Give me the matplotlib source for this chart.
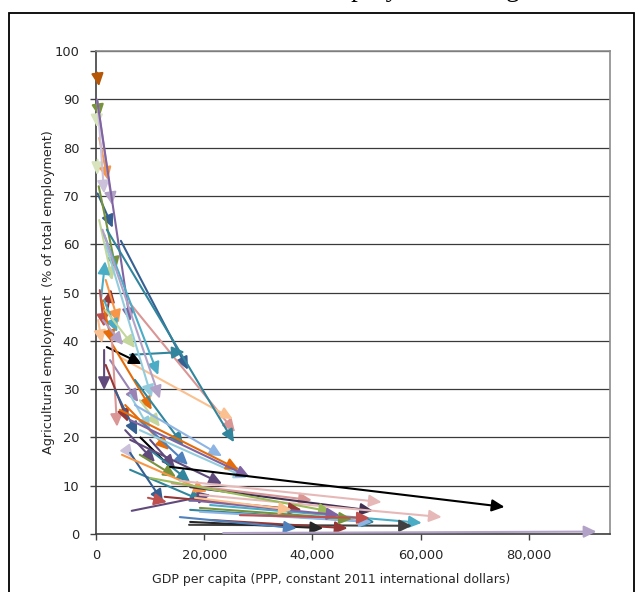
import matplotlib
matplotlib.use("Agg")
import matplotlib.pyplot as plt
from matplotlib.patches import Rectangle
from matplotlib.ticker import FuncFormatter

# one arrow per country: first year -> last year
x_start = [250, 250, 150, 300, 600, 200, 400, 300, 200, 500,
           600, 2000, 900, 4600, 6100, 4800, 2000, 6300, 2000, 1500,
           700, 1800, 1500, 400, 1100, 1700, 1300, 1500, 1800, 1200,
           3100, 2600, 2950, 1800, 8100, 6300, 3500, 7200, 5400, 5400,
           5700, 10000, 8100, 8100, 10000, 6300, 7200, 8100, 4400, 6300,
           6300, 6600, 6300, 4800, 14000, 15500, 17400, 19200, 10000, 12700,
           21100, 17200, 17400, 21100, 17400, 15500, 23500, 19200, 17400, 19200,
           18300, 26600, 9600]
y_start = [95.5, 89.5, 87.0, 77.5, 82.0, 89.9, 87.8, 70.5, 89.9, 72.0,
           65.0, 45.8, 48.4, 60.7, 48.0, 36.4, 63.0, 37.1, 38.7, 38.1,
           50.5, 52.6, 48.4, 44.3, 48.4, 46.4, 44.3, 62.0, 60.0, 63.0,
           39.1, 36.0, 40.2, 35.0, 27.7, 28.8, 29.8, 31.9, 26.7, 21.5,
           17.4, 19.5, 23.6, 16.4, 17.4, 19.5, 26.7, 21.5, 25.7, 23.6,
           13.3, 4.8, 16.8, 16.4, 10.5, 11.0, 9.7, 8.1, 11.6, 7.7,
           6.0, 1.9, 5.0, 2.9, 2.5, 3.5, 0.2, 4.6, 7.0, 5.4,
           7.5, 3.9, 7.5]
x_end = [550, 650, 200, 200, 2200, 3000, 1500, 3100, 6300, 3700,
         3000, 2800, 1700, 17000, 25700, 25300, 25500, 16400, 8500, 1500,
         1500, 4200, 3900, 1100, 3000, 7200, 5000, 11500, 10300, 11800,
         10300, 7800, 3900, 5900, 11800, 10000, 7600, 16100, 13500, 10900,
         6800, 14600, 17000, 14800, 17400, 23300, 23300, 27900, 26400, 28400,
         19800, 21200, 12400, 20500, 39900, 52800, 51200, 63900, 43600, 38000,
         60200, 58400, 51500, 46500, 42000, 37100, 92500, 51000, 45000, 47300,
         36200, 50600, 13100]
y_end = [92.7, 86.3, 84.2, 74.3, 73.3, 68.1, 70.5, 63.4, 44.0, 54.7,
         52.5, 50.7, 56.5, 34.0, 21.1, 23.8, 19.0, 37.7, 35.2, 29.8,
         42.9, 43.7, 41.8, 39.5, 39.5, 38.5, 39.1, 32.9, 28.2, 28.0,
         25.7, 27.3, 22.2, 23.2, 22.2, 21.5, 20.5, 18.4, 17.4, 14.9,
         15.7, 13.7, 14.3, 11.8, 10.8, 10.4, 16.1, 11.6, 13.3, 11.8,
         6.8, 8.1, 6.6, 8.7, 7.0, 6.6, 4.8, 3.5, 4.6, 5.0,
         2.3, 1.7, 2.5, 1.2, 1.2, 1.2, 0.5, 2.5, 3.9, 3.1,
         5.0, 3.3, 6.6]
colors = ["#B65708", "#77933C", "#D7E4BD", "#D7E4BD", "#F79646", "#B3A2C7", "#CCC1DA", "#376092", "#8064A2", "#77933C",
          "#C3D69B", "#953735", "#4BACC6", "#376092", "#D99694", "#FAC090", "#31859C", "#31859C", "#000000", "#604A7B",
          "#C0504D", "#F79646", "#4BACC6", "#FAC090", "#E46C0A", "#C3D69B", "#B3A2C7", "#4BACC6", "#93CDDD", "#B3A2C7",
          "#E46C0A", "#9983B5", "#D99694", "#953735", "#C3D69B", "#93CDDD", "#376092", "#31859C", "#E46C0A", "#604A7B",
          "#CCC1DA", "#604A7B", "#4F81BD", "#77933C", "#31859C", "#604A7B", "#8EB4E3", "#93CDDD", "#E46C0A", "#8064A2",
          "#31859C", "#604A7B", "#376092", "#F79646", "#D99694", "#E6B9B8", "#403152", "#E6B9B8", "#9BBB59", "#953735",
          "#4BACC6", "#404040", "#31859C", "#953735", "#262626", "#4F81BD", "#B3A2C7", "#8EB4E3", "#8064A2", "#77933C",
          "#FAC090", "#C0504D", "#C0504D"]

# the long black one has a middle year
black_x = [8100, 13700, 75500]
black_y = [20.1, 13.9, 5.6]

plt.rcParams["font.family"] = ["DejaVu Sans"]

fig = plt.figure(figsize=(6.42, 5.92), dpi=100)
ax = fig.add_axes([96 / 642, 1 - 534 / 592, 514 / 642, 483 / 592])

head = "-|>,head_length=0.75,head_width=0.36"


def arrow(x0, y0, x1, y1, c):
    ax.annotate("", xy=(x1, y1), xytext=(x0, y0),
                arrowprops=dict(arrowstyle=head, color=c, lw=1.5,
                                shrinkA=0, shrinkB=0, mutation_scale=10))


for i in range(len(x_start)):
    arrow(x_start[i], y_start[i], x_end[i], y_end[i], colors[i])

ax.plot(black_x[:-1], black_y[:-1], color="black", lw=1.5, solid_capstyle="butt")
arrow(black_x[-2], black_y[-2], black_x[-1], black_y[-1], "black")

ax.set_xlim(0, 95000)
ax.set_ylim(0, 100)
ax.set_xticks([0, 20000, 40000, 60000, 80000])
ax.set_yticks(range(0, 101, 10))
ax.xaxis.set_major_formatter(FuncFormatter(lambda v, p: f"{v:,.0f}"))
ax.yaxis.grid(True, color="#3a3a3a", lw=0.9)
ax.set_axisbelow(True)

for s in ["top", "right"]:
    ax.spines[s].set_color("#8c8c8c")
    ax.spines[s].set_linewidth(1.2)
for s in ["left", "bottom"]:
    ax.spines[s].set_color("#404040")
    ax.spines[s].set_linewidth(1.2)

ax.tick_params(axis="both", direction="out", length=4, width=1, color="#404040",
               labelsize=9.4, labelcolor="#262626")
ax.tick_params(axis="y", pad=8)
ax.tick_params(axis="x", pad=7)

ax.set_xlabel("GDP per capita (PPP, constant 2011 international dollars)", fontsize=9.0, color="#262626")
ax.xaxis.set_label_coords((331 - 96) / 514, -0.08)
ax.set_ylabel("Agricultural employment  (% of total employment)", fontsize=9.2, color="#262626")
ax.yaxis.set_label_coords(-0.08, 0.5)

# outer chart frame and the page title, mostly cut off above the crop
fig.patches.append(Rectangle((9 / 642, -0.05), 625 / 642, 1.05 - 13 / 592, transform=fig.transFigure,
                             fill=False, ec="black", lw=1.3))
fig.text(254 / 642, 1 + 4 / 592, "Farm employment and growth", family="Liberation Serif",
         fontsize=19.5, ha="left", va="baseline")

plt.savefig("out.png", dpi=100)
